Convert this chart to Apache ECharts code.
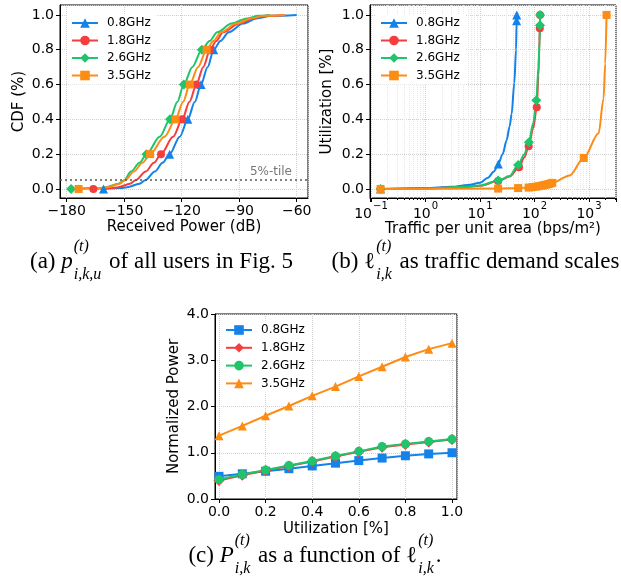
<!DOCTYPE html>
<html>
<head>
<meta charset="utf-8">
<script src="https://cdn.jsdelivr.net/npm/echarts@6/dist/echarts.min.js"></script>
<style>
  html, body { margin: 0; padding: 0; background: #fff; }
  #main { width: 621px; height: 580px; }
</style>
</head>
<body>
<div id="main"></div>
<script>
// ---- data -------------------------------------------------------------
const BANDS = ["0.8GHz", "1.8GHz", "2.6GHz", "3.5GHz"];
const COLORS = ["#1482e8", "#f53d3d", "#1fc46b", "#fc8c14"];

// (a) CDF of received power, one x array per band at these CDF levels
const cdf_levels = [0, 0.005, 0.01, 0.03, 0.05, 0.1, 0.15, 0.2, 0.3, 0.4, 0.5, 0.6, 0.7, 0.8, 0.85, 0.9, 0.95, 0.98, 0.995, 1.0];
const cdf_marks = [0, 0.2, 0.4, 0.6, 0.8];
const rx_08 = [-160.8, -152, -148.5, -142, -139, -134, -130, -126.3, -121, -116.8, -113.2, -109.9, -106.5, -103.3, -99.8, -95.5, -88, -81, -73, -60];
const rx_18 = [-166.1, -157, -153, -147, -144, -138.8, -134.5, -130.8, -124.5, -119.7, -116, -112.3, -108.8, -105.2, -102, -98.5, -90, -83, -76, -66];
const rx_26 = [-177.7, -163, -159.5, -153, -150, -146.5, -142, -138.4, -131.5, -126.1, -122.3, -118.9, -114.5, -109.5, -105.5, -101.5, -94, -86, -80, -74];
const rx_35 = [-173.8, -162, -158.5, -152.5, -149.5, -145, -140.5, -136.5, -129, -123.2, -119.3, -115.8, -111.5, -107, -103.5, -99.5, -91.5, -84, -77, -66];
const pct_line = 0.05;

// (b) utilization vs traffic per unit area
const traffic_08 = [0.15, 1, 3, 6, 10, 14, 18, 21.7, 26, 30.8, 35, 38, 42.6, 45.8, 47, 47.2];
const util_08 = [0, 0.006, 0.012, 0.022, 0.035, 0.065, 0.1, 0.144, 0.2, 0.28, 0.36, 0.43, 0.61, 0.8, 0.967, 1.0];
const mark_08 = [0, 7, 14, 15];
const traffic_18 = [0.15, 1, 5, 10, 21.5, 35, 52, 65, 78, 95, 110, 118, 122, 125, 126.5];
const util_18 = [0, 0.003, 0.011, 0.018, 0.045, 0.072, 0.125, 0.18, 0.245, 0.35, 0.47, 0.65, 0.8, 0.923, 1.0];
const mark_18 = [0, 4, 6, 8, 10, 13, 14];
const traffic_26 = [0.15, 1, 5, 10, 21.5, 35, 50, 65, 79, 95, 108, 118, 124, 126, 126.5];
const util_26 = [0, 0.003, 0.012, 0.02, 0.048, 0.075, 0.138, 0.2, 0.269, 0.38, 0.51, 0.7, 0.85, 0.94, 1.0];
const mark_26 = [0, 4, 6, 8, 10, 13, 14];
const traffic_35 = [0.15, 21.5, 50, 78, 92, 106, 120, 135, 150, 165, 180, 195, 212, 440, 800, 1500, 1850, 1980, 2100];
const util_35 = [0, 0.002, 0.005, 0.008, 0.011, 0.013, 0.016, 0.019, 0.022, 0.025, 0.028, 0.031, 0.035, 0.077, 0.178, 0.32, 0.52, 0.72, 1.0];
const mark_35 = [0, 1, 2, 3, 4, 5, 6, 7, 8, 9, 10, 11, 12, 14, 18];

// (c) normalized power vs utilization
const util_levels = [0.0, 0.1, 0.2, 0.3, 0.4, 0.5, 0.6, 0.7, 0.8, 0.9, 1.0];
const power_08 = [0.49, 0.545, 0.6, 0.655, 0.715, 0.775, 0.83, 0.885, 0.935, 0.975, 1.0];
const power_18 = [0.4, 0.515, 0.615, 0.715, 0.81, 0.92, 1.02, 1.12, 1.18, 1.235, 1.285];
const power_26 = [0.42, 0.53, 0.625, 0.725, 0.82, 0.93, 1.03, 1.135, 1.19, 1.245, 1.295];
const power_35 = [1.37, 1.58, 1.8, 2.01, 2.23, 2.43, 2.65, 2.86, 3.07, 3.24, 3.37];

// ---- helpers ----------------------------------------------------------
const FONT = "DejaVu Sans";
const SERIF = '"Liberation Serif", "DejaVu Serif", serif';

function minus(v) { return String(v).replace("-", "\u2212"); }
function pow10Label(v) {
  const e = Math.round(Math.log10(v));
  return "{b|10}{e|" + minus(e) + "}";
}

function pts(xs, ys, isMark) {
  return xs.map(function (x, i) {
    if (isMark(i)) return [x, ys[i]];
    return {value: [x, ys[i]], symbol: "none"};
  });
}

function mkSeries(name, idx, data, symbol, size, color, smooth) {
  return {
    name: name, type: "line", xAxisIndex: idx, yAxisIndex: idx,
    data: data, symbol: symbol, symbolSize: size,
    showSymbol: true, showAllSymbol: true,
    smooth: smooth, smoothMonotone: "x",
    lineStyle: {width: 2, color: color},
    itemStyle: {color: color, borderWidth: 0},
    emphasis: {disabled: true}, animation: false
  };
}

function axisBase(name, gap) {
  return {
    name: name, nameLocation: "middle", nameGap: gap,
    nameTextStyle: {color: "#000", fontFamily: FONT, fontSize: 15},
    axisLine: {show: true, onZero: false, lineStyle: {color: "#000", width: 1}},
    axisTick: {show: true, inside: false, length: 4, lineStyle: {color: "#000"}},
    axisLabel: {color: "#000", fontFamily: FONT, fontSize: 14, margin: 6,
                showMinLabel: false, showMaxLabel: false},
    splitLine: {show: true, lineStyle: {color: "#cfcfcf", type: "dotted", width: 1}}
  };
}

function legendBox(left, top, names, gap) {
  return {
    orient: "vertical", left: left, top: top, data: names,
    itemWidth: 26, itemHeight: 12, itemGap: gap,
    padding: [3, 6, 3, 4], backgroundColor: "#fff",
    selectedMode: false,
    formatter: n => n.split("|")[0],
    textStyle: {fontFamily: FONT, fontSize: 12, color: "#000", padding: [0, 0, 0, 4]}
  };
}

// caption with math-like scripts, laid out by measured widths
const ctx = document.createElement("canvas").getContext("2d");
function caption(parts, center, base) {
  const MAIN = 23, SCR = 16;
  const font = (it, sz) => (it ? "italic " : "") + sz + "px " + SERIF;
  const w = (t, it, sz) => { ctx.font = font(it, sz); return ctx.measureText(t).width; };
  const items = [];
  let x = 0;
  parts.forEach(function (p) {
    if (p.sup !== undefined) {
      const ws = w(p.sup, true, SCR), wb = w(p.sub, true, SCR);
      items.push({t: p.sup, it: true, sz: SCR, x: x + 1, y: base - 18});
      items.push({t: p.sub, it: true, sz: SCR, x: x + 1, y: base + 10});
      x += Math.max(ws, wb) + 3;
    } else {
      items.push({t: p.t, it: !!p.it, sz: MAIN, x: x, y: base});
      x += w(p.t, !!p.it, MAIN);
    }
  });
  const x0 = center - x / 2;
  return items.map(function (d) {
    return {
      type: "text", x: x0 + d.x, y: d.y - 0.34 * d.sz, silent: true,
      style: {text: d.t, font: font(d.it, d.sz), fill: "#000",
              textAlign: "left", verticalAlign: "middle", textVerticalAlign: "middle"}
    };
  });
}

// ---- chart ------------------------------------------------------------
const chart = echarts.init(document.getElementById("main"), null, {renderer: "canvas"});

const symA = ["triangle", "circle", "diamond", "rect"];
const sizeA = [9, 8, 10, 8];
const rxAll = [rx_08, rx_18, rx_26, rx_35];
const trafficAll = [traffic_08, traffic_18, traffic_26, traffic_35];
const utilAll = [util_08, util_18, util_26, util_35];
const markAll = [mark_08, mark_18, mark_26, mark_35];
const powerAll = [power_08, power_18, power_26, power_35];
const symC = ["rect", "diamond", "circle", "triangle"];
const sizeC = [9, 11, 9, 9];

const series = [];
BANDS.forEach(function (b, k) {
  const s = mkSeries(b + "|a", 0,
    pts(rxAll[k], cdf_levels, i => cdf_marks.indexOf(cdf_levels[i]) >= 0),
    symA[k], sizeA[k], COLORS[k], 0.3);
  if (k === 0) {
    s.markLine = {
      silent: true, symbol: "none", animation: false,
      lineStyle: {type: [2, 3], color: "#555", width: 1.6},
      label: {show: true, position: "insideEndTop", formatter: "5%-tile",
              color: "#777", fontFamily: FONT, fontSize: 12, distance: [16, 2]},
      data: [{yAxis: pct_line}]
    };
  }
  series.push(s);
});
BANDS.forEach(function (b, k) {
  series.push(mkSeries(b + "|b", 1,
    pts(trafficAll[k], utilAll[k], i => markAll[k].indexOf(i) >= 0),
    symA[k], sizeA[k], COLORS[k], 0.3));
});
BANDS.forEach(function (b, k) {
  series.push(mkSeries(b + "|c", 2,
    util_levels.map((u, i) => [u, powerAll[k][i]]),
    symC[k], sizeC[k], COLORS[k], false));
});

const xA = axisBase("Received Power (dB)", 22);
Object.assign(xA, {type: "value", gridIndex: 0, min: -183.5, max: -54.1, splitNumber: 5});
xA.axisLabel.formatter = v => minus(v);
const yA = axisBase("CDF (%)", 33);
Object.assign(yA, {type: "value", gridIndex: 0, min: -0.052, max: 1.057, splitNumber: 5});
yA.axisLabel.formatter = v => v.toFixed(1);

const xB = axisBase("Traffic per unit area (bps/m\u00b2)", 22);
Object.assign(xB, {type: "log", logBase: 10, gridIndex: 1, min: 0.0959, max: 3126});
xB.axisLabel.formatter = v => pow10Label(v);
xB.axisLabel.margin = 3;
xB.axisLabel.rich = {
  b: {fontFamily: FONT, fontSize: 14, color: "#000", lineHeight: 20, verticalAlign: "bottom"},
  e: {fontFamily: FONT, fontSize: 10, color: "#000", lineHeight: 10, verticalAlign: "top", padding: [0, 0, 0, 1]}
};
xB.minorTick = {show: true, splitNumber: 9, length: 2, lineStyle: {color: "#000"}};
xB.minorSplitLine = {show: true, lineStyle: {color: "#e6e6e6", type: "dotted", width: 1}};
const yB = axisBase("Utilization [%]", 35);
Object.assign(yB, {type: "value", gridIndex: 1, min: -0.052, max: 1.057, splitNumber: 5});
yB.axisLabel.formatter = v => v.toFixed(1);

const xC = axisBase("Utilization [%]", 23);
Object.assign(xC, {type: "value", gridIndex: 2, min: -0.0172, max: 1.0215, splitNumber: 5});
xC.axisLabel.formatter = v => v.toFixed(1);
const yC = axisBase("Normalized Power", 33);
Object.assign(yC, {type: "value", gridIndex: 2, min: 0, max: 4, interval: 1});
yC.axisLabel.formatter = v => v.toFixed(1);
yC.axisLabel.showMinLabel = true;
yC.axisLabel.showMaxLabel = true;

const captions = []
  .concat(caption([{t: "(a) "}, {t: "p", it: true}, {sup: "(t)", sub: "i,k,u"}, {t: " of all users in Fig. 5"}], 161.5, 270))
  .concat(caption([{t: "(b) "}, {t: "\u2113", it: false}, {sup: "(t)", sub: "i,k"}, {t: " as traffic demand scales"}], 475.5, 270))
  .concat(caption([{t: "(c) "}, {t: "P", it: true}, {sup: "(t)", sub: "i,k"}, {t: " as a function of "},
                   {t: "\u2113", it: false}, {sup: "(t)", sub: "i,k"}, {t: "."}], 315, 564));

const frame = {show: true, borderColor: "#000", borderWidth: 1, backgroundColor: "transparent"};
chart.setOption({
  animation: false,
  backgroundColor: "#fff",
  grid: [
    Object.assign({left: 60, top: 5, width: 248, height: 193}, frame),
    Object.assign({left: 370, top: 5, width: 246, height: 193}, frame),
    Object.assign({left: 215, top: 314, width: 242, height: 185}, frame)
  ],
  xAxis: [xA, xB, xC],
  yAxis: [yA, yB, yC],
  legend: [
    legendBox(67, 14, BANDS.map(b => b + "|a"), 5.5),
    legendBox(376, 14, BANDS.map(b => b + "|b"), 5.5),
    legendBox(221, 321, BANDS.map(b => b + "|c"), 5.8)
  ],
  graphic: captions,
  series: series
});
</script>
</body>
</html>
